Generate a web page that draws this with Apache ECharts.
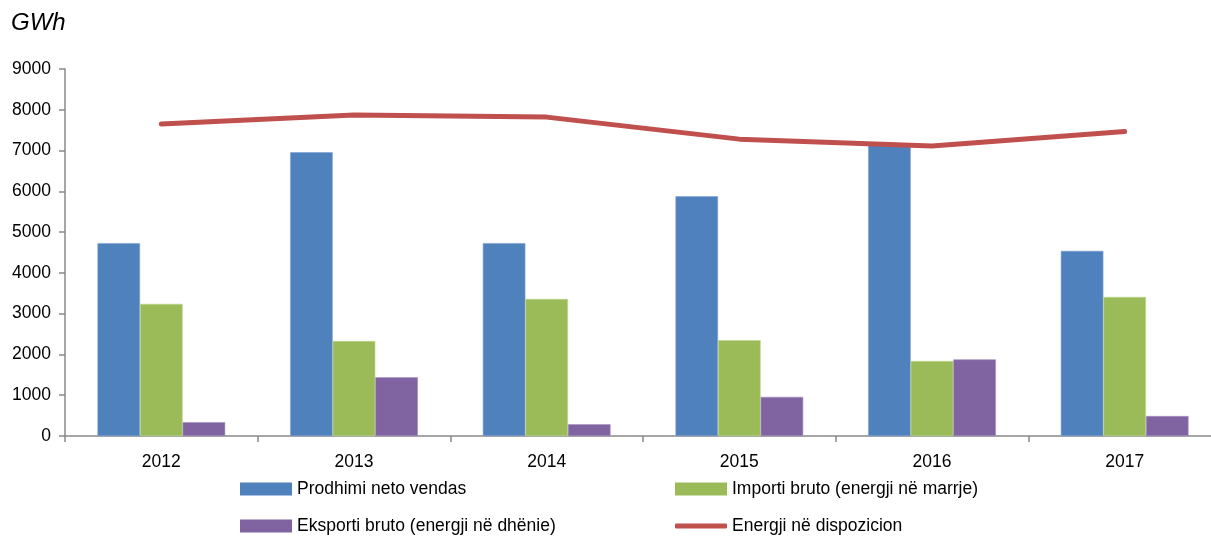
<!DOCTYPE html>
<html><head><meta charset="utf-8">
<script src="https://cdn.jsdelivr.net/npm/echarts@6/dist/echarts.min.js"></script>
<style>html,body{margin:0;padding:0;background:#fff}#c{width:1211px;height:538px}</style>
</head><body><div id="c"></div>
<script>
const categories = ['2012','2013','2014','2015','2016','2017'];
const prodhimi = [4730, 6960, 4730, 5880, 7130, 4540];
const importi = [3240, 2330, 3360, 2350, 1840, 3410];
const eksporti = [340, 1440, 290, 960, 1880, 490];
const energji = [7650, 7870, 7820, 7280, 7110, 7470];
const names = ['Prodhimi neto vendas','Importi bruto (energji në marrje)','Eksporti bruto (energji në dhënie)','Energji në dispozicion'];
const colors = ['#4f81bd','#9bbb59','#8064a2','#c0504d'];
const font = 'Liberation Sans, Arial, sans-serif';
const chart = echarts.init(document.getElementById('c'));
function lg(name, left, top, isLine){
  return {data:[{name:name, icon: isLine ? 'roundRect' : 'rect'}], left:left, top:top, padding:0, itemWidth:52, itemHeight: isLine ? 5 : 13, itemGap:0,
    itemStyle:{borderWidth:0},
    textStyle:{fontFamily:font, fontSize:17.5, color:'#000', padding:[0,0,0,0]}, selectedMode:false};
}
chart.setOption({
  animation:false,
  textStyle:{fontFamily:font},
  title:{text:'GWh', left:11, top:11, padding:0, textStyle:{fontFamily:font, fontStyle:'italic', fontWeight:'normal', fontSize:24, color:'#000'}},
  grid:{left:65, width:1156, top:69, bottom:102, outerBoundsMode:'none', containLabel:false},
  legend:[lg(names[0],240,480,false), lg(names[1],675,480,false), lg(names[2],240,517,false), lg(names[3],675,517,true)],
  xAxis:{type:'category', data:categories,
    axisLine:{lineStyle:{color:'#898989', width:1.5}},
    axisTick:{show:true, length:6, lineStyle:{color:'#898989', width:1.5}},
    axisLabel:{fontFamily:font, fontSize:17.5, color:'#000', margin:17}},
  yAxis:{type:'value', min:0, max:9000, interval:1000,
    axisLine:{show:true, lineStyle:{color:'#898989', width:1.5}},
    axisTick:{show:true, length:6, lineStyle:{color:'#898989', width:1.5}},
    splitLine:{show:false},
    axisLabel:{fontFamily:font, fontSize:17.5, color:'#000', margin:14, formatter:function(v){return String(v);}}},
  series:[
    {name:names[0], type:'bar', data:prodhimi, barGap:'0%', barCategoryGap:'33.7%', itemStyle:{color:colors[0], borderColor:'#7fa3d3', borderWidth:0.6}},
    {name:names[1], type:'bar', data:importi, barGap:'0%', barCategoryGap:'33.7%', itemStyle:{color:colors[1], borderColor:'#bcd68c', borderWidth:0.6}},
    {name:names[2], type:'bar', data:eksporti, barGap:'0%', barCategoryGap:'33.7%', itemStyle:{color:colors[2], borderColor:'#a590c0', borderWidth:0.6}},
    {name:names[3], type:'line', data:energji, symbol:'none', z:5, lineStyle:{color:colors[3], width:5, cap:'round', join:'round'}, itemStyle:{color:colors[3]}}
  ]
});
</script></body></html>
